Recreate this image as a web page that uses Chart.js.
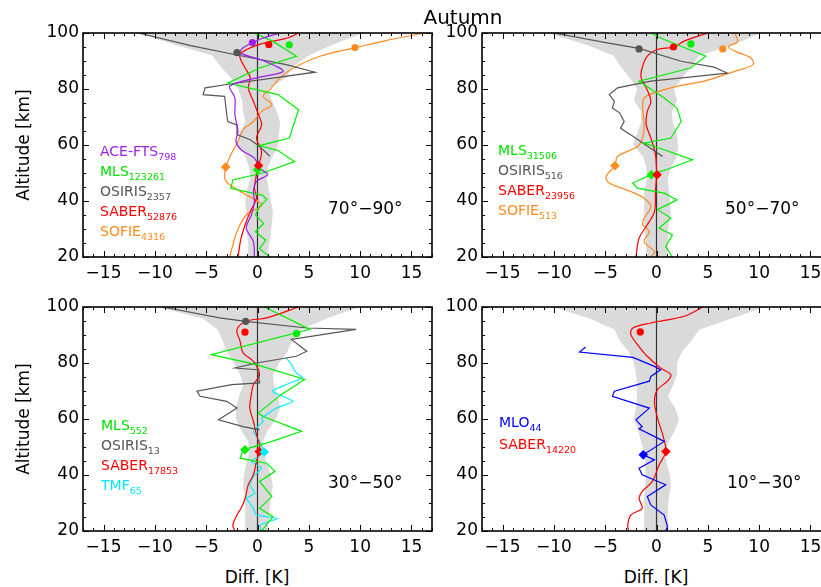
<!DOCTYPE html>
<html lang="en">
<head>
<meta charset="UTF-8">
<title>Autumn</title>
<script src="https://cdn.jsdelivr.net/npm/chart.js@4.4.1/dist/chart.umd.min.js"></script>
<style>
  html, body { margin: 0; padding: 0; width: 821px; height: 587px; overflow: hidden; background: #fff; }
  body { position: relative; font-family: 'DejaVu Sans', sans-serif; color: #000; }
  canvas { position: absolute; }
  .txt { position: absolute; white-space: nowrap; line-height: 1; transform: translateY(-50%); }
  .mid { transform: translate(-50%, -50%); }
  .rot { transform: translate(-50%, -50%) rotate(-90deg); font-size: 17px; }
  .leg { font-size: 14px; }
  .leg sub { font-size: 9.5px; vertical-align: -4px; }
  .zone { font-size: 17px; }
</style>
</head>
<body>
<canvas id="p1" width="440" height="290" style="left:0;top:0"></canvas>
<canvas id="p2" width="400" height="290" style="left:440px;top:0"></canvas>
<canvas id="p3" width="440" height="290" style="left:0;top:274px"></canvas>
<canvas id="p4" width="400" height="290" style="left:440px;top:274px"></canvas>

<div class="txt mid" style="left:463px;top:17px;font-size:20px">Autumn</div>
<div class="txt rot" style="left:23px;top:145px">Altitude [km]</div>
<div class="txt rot" style="left:23px;top:419px">Altitude [km]</div>
<div class="txt mid" style="left:257px;top:577px;font-size:17px">Diff. [K]</div>
<div class="txt mid" style="left:656px;top:577px;font-size:17px">Diff. [K]</div>

<div class="txt zone" style="left:328px;top:208px">70°−90°</div>
<div class="txt zone" style="left:725px;top:208px">50°−70°</div>
<div class="txt zone" style="left:328px;top:482px">30°−50°</div>
<div class="txt zone" style="left:727px;top:482px">10°−30°</div>

<div class="txt leg" style="left:100px;top:153px;color:#9b1fe8">ACE-FTS<sub>798</sub></div>
<div class="txt leg" style="left:100px;top:173px;color:#00e000">MLS<sub>123261</sub></div>
<div class="txt leg" style="left:100px;top:193px;color:#555">OSIRIS<sub>2357</sub></div>
<div class="txt leg" style="left:100px;top:213px;color:#ff0000">SABER<sub>52876</sub></div>
<div class="txt leg" style="left:100px;top:233px;color:#ff8a1e">SOFIE<sub>4316</sub></div>

<div class="txt leg" style="left:498px;top:152px;color:#00e000">MLS<sub>31506</sub></div>
<div class="txt leg" style="left:498px;top:172px;color:#555">OSIRIS<sub>516</sub></div>
<div class="txt leg" style="left:498px;top:192px;color:#ff0000">SABER<sub>23956</sub></div>
<div class="txt leg" style="left:498px;top:212px;color:#ff8a1e">SOFIE<sub>513</sub></div>

<div class="txt leg" style="left:101px;top:427px;color:#00e000">MLS<sub>552</sub></div>
<div class="txt leg" style="left:101px;top:447px;color:#555">OSIRIS<sub>13</sub></div>
<div class="txt leg" style="left:101px;top:467px;color:#ff0000">SABER<sub>17853</sub></div>
<div class="txt leg" style="left:101px;top:487px;color:#00e8ff">TMF<sub>65</sub></div>

<div class="txt leg" style="left:499px;top:424px;color:#0000ff">MLO<sub>44</sub></div>
<div class="txt leg" style="left:499px;top:446px;color:#ff0000">SABER<sub>14220</sub></div>

<script>
// axis ticks
const xTicks = [-15, -10, -5, 0, 5, 10, 15];
const yTicks = [20, 40, 60, 80, 100];
const xMinor = [-17, -16, -15, -14, -13, -12, -11, -10, -9, -8, -7, -6, -5, -4, -3, -2, -1, 0,
                1, 2, 3, 4, 5, 6, 7, 8, 9, 10, 11, 12, 13, 14, 15, 16, 17];
const yMinor = [20, 25, 30, 35, 40, 45, 50, 55, 60, 65, 70, 75, 80, 85, 90, 95, 100];

// spread band (altitude, low and high edge of the gray area)
const bandAlt = [100, 96, 92, 88, 84, 80, 76, 72, 68, 64, 60, 56, 52, 48, 44, 40, 36, 32, 28, 24, 20];
const band7090Lo = [-11.6, -8.2, -4.4, -3.6, -2.6, -1.9, -1.5, -1.4, -1.2, -1.8, -1.9, -1.2, -0.8, -0.7, -1.0, -1.2, -1.1, -1.1, -1.0, -0.9, -0.9];
const band7090Hi = [10.3, 7.4, 5.0, 3.4, 2.8, 1.0, 1.4, 1.9, 2.2, 2.1, 2.0, 1.5, 1.0, 0.9, 1.1, 1.3, 1.5, 1.4, 1.3, 1.1, 1.0];
const band5070Lo = [-10.6, -7.0, -4.2, -3.5, -2.6, -1.9, -2.2, -1.5, -1.5, -1.9, -2.3, -1.3, -1.0, -0.9, -1.2, -1.2, -1.2, -1.2, -1.1, -1.0, -1.0];
const band5070Hi = [10.2, 7.6, 4.2, 3.4, 2.5, 1.7, 2.0, 1.5, 1.6, 2.0, 2.1, 2.0, 1.4, 1.1, 1.2, 1.3, 1.4, 1.2, 1.1, 1.1, 1.1];
const band3050Lo = [-9.8, -5.4, -3.9, -3.4, -3.0, -2.3, -1.7, -1.4, -1.8, -2.1, -2.1, -1.6, -0.9, -0.8, -1.1, -1.3, -1.4, -1.2, -1.2, -1.2, -1.2];
const band3050Hi = [9.9, 6.8, 4.3, 3.4, 2.9, 2.1, 1.5, 1.6, 2.0, 2.2, 1.8, 1.0, 0.5, 0.6, 0.9, 1.3, 1.5, 1.3, 1.2, 1.1, 1.0];
const band1030Lo = [-10.1, -6.6, -4.1, -3.6, -2.7, -2.2, -2.0, -1.9, -1.9, -2.0, -2.2, -1.8, -1.5, -1.2, -1.1, -1.05, -1.1, -1.2, -1.2, -1.2, -1.2];
const band1030Hi = [10.5, 7.4, 4.2, 3.4, 2.5, 2.0, 2.0, 1.6, 1.1, 1.8, 2.2, 1.8, 1.2, 0.9, 1.0, 1.3, 1.4, 1.2, 1.1, 1.1, 1.2];

// profiles: [diff K, altitude km]
const ace7090 = [[2.2,100],[0.2,97.7],[-1.4,94.7],[-1.7,92.9],[0.7,89.9],[2.5,86.3],[-0.1,84],[-2.7,81],[-2.2,76.8],[-2.2,70.8],[-1.9,64.9],[-2.1,61.3],[-1.6,58.3],[-0.3,55.3],[0.2,51.7],[1.0,49.4],[-0.1,47],[-0.4,43.4],[-0.3,39.8],[-0.6,35],[-1.1,30.3],[-0.4,25.5],[-0.3,20]];
const mls7090 = [[-0.3,100],[1.5,97],[3.8,91.7],[0.2,87.5],[-2.9,82.1],[2.0,78],[4.0,72.6],[3.1,62.5],[0.2,59.8],[2.0,58],[3.6,54.1],[0.5,50],[-2.4,47.5],[-2.6,44.5],[0.5,42],[0.9,40.5],[0.2,38],[-0.2,35],[0.6,32],[-0.2,29],[0.8,26],[0.2,23],[1.2,20]];
const osiris7090 = [[-11.6,100],[-6.5,95.5],[-2.5,92.5],[2.8,88.7],[5.6,86],[-3.0,81.6],[-5.1,80.4],[-5.3,78],[-3.2,77.4],[-3.0,70.8],[-2.9,68.4],[-2.0,67.2],[-2.0,63.7],[-0.7,61.9],[0.2,59.5],[1.2,56]];
const saber7090 = [[4.0,100],[3.0,98.3],[1.4,97],[-0.1,95.6],[-1.6,92.9],[-1.7,91.1],[-1.2,87.5],[-0.7,84],[-0.9,80.4],[-0.4,75.6],[0.1,70.8],[0.4,67.2],[-0.1,62.5],[0.4,57.7],[0.1,52.7],[-0.1,49.4],[-0.3,44.6],[-0.1,41],[-0.7,36.2],[-1.2,31.5],[-1.6,26.7],[-1.9,20]];
const sofie7090 = [[16.3,100],[12.5,97.3],[9.5,94.7],[6.1,91.7],[3.5,87.5],[2.2,84],[1.2,79.8],[0.55,77.4],[1.4,74.4],[0.4,72],[-0.4,68.4],[-1.4,65.5],[-1.9,61.3],[-2.5,57.2],[-3.0,53],[-3.2,48.2],[-2.7,45.8],[-1.1,42.2],[0.4,38.6],[-1.1,35],[-2.0,29.1],[-2.4,24.3],[-2.7,20]];

const mls5070 = [[-0.55,100],[0.75,97.7],[4.8,91.7],[3.3,87.5],[-1.7,82.8],[0.75,76.8],[2.0,73.2],[2.4,68.4],[1.4,62.5],[-1.2,60.7],[0.75,58.3],[3.5,54.7],[1.2,51.5],[-0.55,49.4],[-2.3,46.4],[-1.85,44.6],[0.75,42.8],[2.0,40.4],[0.1,36.9],[1.4,33.9],[0.25,30.3],[1.55,27.9],[0.9,23.7],[1.55,20]];
const osiris5070 = [[-10.0,100],[-4.8,96.5],[-1.7,94.5],[2.4,89.9],[5.6,87.8],[6.9,85.7],[-0.55,82.8],[-3.8,80.4],[-4.6,78],[-4.1,75.6],[-4.3,73.2],[-3.6,71.5],[-3.15,68.4],[-3.5,66],[-2.3,63.1],[0.6,55.9]];
const saber5070 = [[5.0,100],[2.7,97.1],[1.65,95.0],[0.1,94.1],[-0.9,91.7],[-1.4,87.5],[-1.5,84],[-1.0,80.4],[-0.55,75.6],[-0.9,72],[-1.0,67.2],[-0.55,62.5],[-0.1,56.5],[0,49.4],[-0.1,43.4],[-0.2,36.2],[-0.9,31.5],[-1.7,26.7],[-2.0,20]];
const sofie5070 = [[7.6,100],[7.9,97],[7.0,95],[8.0,93],[9.2,91.1],[9.4,88.7],[7.6,86.3],[4.6,82.8],[2.05,81],[-0.2,78.6],[-1.2,76.8],[-1.35,73.2],[-1.2,67.2],[-1.35,62.5],[-1.85,59.5],[-3.8,55.9],[-4.05,52.6],[-4.9,48.8],[-4.6,46.4],[-2.5,43.4],[-1.2,41],[-0.55,38],[-1.2,33.9],[-1.35,31.5],[-0.7,29.1],[-1.2,25.5],[-0.2,21.9],[-0.55,20]];

const mls3050 = [[0.7,100],[5.1,92],[-4.5,83],[-0.1,79.4],[4.6,74.1],[2.3,68.7],[0.06,62.1],[0.55,60.9],[4.3,55.6],[1.4,52],[-1.4,49],[-1.7,46],[0.9,44.2],[1.7,41.3],[0.2,37.7],[1.4,32.3],[0.2,28.1],[1.5,25.1],[0.4,20]];
const osiris3050 = [[-9.2,100],[-3.7,96.1],[-1.15,94.9],[4.8,92.5],[9.6,92],[3.3,88.4],[4.8,84.2],[3.8,82.4],[-0.1,80],[-2.2,78.2],[0.0,77.6],[0.2,72.9],[-2.5,72.3],[-5.9,69.9],[-5.6,68.1],[-3.0,66.3],[-2.0,63.9],[-3.8,59.7],[-1.4,57.3],[0.2,56.1]];
const saber3050 = [[4.0,100],[0.9,96.1],[-1.1,94.9],[-2.0,91.9],[-1.7,87.8],[-1.4,83.6],[-0.4,80.6],[0.2,75.8],[-0.4,72.3],[-0.6,68.7],[-0.75,63.9],[-0.4,59.2],[-0.1,54.4],[0.2,50.8],[0.16,48.4],[-0.1,44.8],[-0.4,40.1],[-0.9,36.5],[-1.2,31.7],[-1.6,28.1],[-2.0,25.7],[-2.4,22.1],[-2.2,20]];
const tmf3050 = [[2.8,81.8],[3.3,79.4],[3.8,76.4],[4.4,74.7],[2.8,72.3],[1.4,69.9],[3.5,66.3],[1.85,63.9],[0.4,60.3],[0.55,59.2],[-0.4,55.6],[0.2,52],[0.65,48.2],[-0.6,44.8],[0.4,42.5],[-0.4,39.5],[-0.75,36.5],[-0.25,33.5],[-1.07,31.7],[-0.4,28.1],[-0.1,25.7],[2.0,24.5],[0.2,22.1],[0.4,20]];

const mlo1030 = [[-6.9,85.7],[-7.5,83.9],[-2.3,82],[-0.2,78.8],[0.4,77.6],[-0.55,75.2],[-0.7,73.5],[-4.1,69.9],[-4.3,68.1],[-0.7,63.9],[-2.0,59.7],[-1.4,57.3],[-1.7,56.5],[0.75,52],[-1.3,47.2],[-0.2,45.4],[-1.7,42.4],[-1.4,40.1],[0.9,36.5],[-0.9,32.3],[-0.55,29.3],[0.75,25.7],[1.07,21.6],[0.9,20]];
const saber1030 = [[4.5,100],[2.7,96.7],[-0.55,94.3],[-2.3,92.5],[-2.5,90.2],[-1.85,86.6],[-0.9,82.4],[0.4,78.2],[1.4,75.8],[1.07,73.5],[0.1,70.5],[-0.2,66.3],[0.1,60.3],[0.6,54.4],[0.9,48.4],[0.25,43.6],[-0.4,37.7],[-1.4,34.1],[-1.7,31.7],[-1.4,28.1],[-2.5,25.7],[-2.8,22.1],[-2.7,20]];

// upper (circle) and lower (diamond) markers
const circles7090 = [[-0.5,96.6],[1.1,95.9],[3.1,95.8],[-2.0,93.0],[9.5,94.8]];
const diamonds7090 = [[-3.1,52.1],[0.0,51.2],[0.1,52.7]];
const circles5070 = [[-1.7,94.3],[1.65,95.0],[3.35,96.1],[6.45,94.3]];
const diamonds5070 = [[-4.05,52.6],[-0.5,49.4],[0.05,49.4]];
const circles3050 = [[-1.15,94.9],[-1.22,91.0],[3.8,90.5]];
const diamonds3050 = [[-1.22,49.0],[0.17,48.4],[0.66,48.2]];
const circles1030 = [[-1.58,91.1]];
const diamonds1030 = [[-1.29,47.2],[0.92,48.4]];

const cAce = '#9b1fe8', cMls = '#00ee00', cOsi = '#555555', cSab = '#ff0000',
      cSof = '#ff8a1e', cTmf = '#00f0ff', cMlo = '#0000ff';
const FONT = "'DejaVu Sans', sans-serif";

function xy(pts) { return pts.map(p => ({ x: p[0], y: p[1] })); }
function fmtX(v) { return v < 0 ? '\u2212' + (-v) : String(v); }

function bandPlugin(lo, hi) {
  return {
    id: 'band',
    beforeDatasetsDraw(chart) {
      const { ctx, chartArea: a, scales: { x, y } } = chart;
      ctx.save();
      ctx.beginPath();
      ctx.rect(a.left, a.top, a.right - a.left, a.bottom - a.top);
      ctx.clip();
      ctx.beginPath();
      bandAlt.forEach((h, i) => {
        const px = x.getPixelForValue(lo[i]), py = y.getPixelForValue(h);
        if (i === 0) ctx.moveTo(px, py); else ctx.lineTo(px, py);
      });
      for (let i = bandAlt.length - 1; i >= 0; i--) {
        ctx.lineTo(x.getPixelForValue(hi[i]), y.getPixelForValue(bandAlt[i]));
      }
      ctx.closePath();
      ctx.fillStyle = '#dadada';
      ctx.fill();
      ctx.restore();
    }
  };
}

// box with inward ticks on all four sides
const framePlugin = {
  id: 'frame',
  afterDatasetsDraw(chart) {
    const { ctx, chartArea: a, scales: { x, y } } = chart;
    ctx.save();
    ctx.strokeStyle = '#000';
    ctx.lineWidth = 1;
    ctx.beginPath();
    xMinor.forEach(v => {
      const px = Math.round(x.getPixelForValue(v)) + 0.5;
      const len = xTicks.includes(v) ? 6 : 3;
      ctx.moveTo(px, a.bottom); ctx.lineTo(px, a.bottom - len);
      ctx.moveTo(px, a.top); ctx.lineTo(px, a.top + len);
    });
    yMinor.forEach(v => {
      const py = Math.round(y.getPixelForValue(v)) + 0.5;
      const len = yTicks.includes(v) ? 6 : 3;
      ctx.moveTo(a.left, py); ctx.lineTo(a.left + len, py);
      ctx.moveTo(a.right, py); ctx.lineTo(a.right - len, py);
    });
    ctx.stroke();
    ctx.lineWidth = 1.6;
    ctx.strokeRect(a.left, a.top, a.right - a.left, a.bottom - a.top);
    ctx.restore();
  }
};

function panel(id, yAxisW, padRight, lo, hi, lines, circles, circleCols, diamonds, diamondCols) {
  const datasets = [
    { data: xy(circles), pointStyle: 'circle', pointRadius: 3.6, pointBackgroundColor: circleCols,
      pointBorderColor: circleCols, pointBorderWidth: 0, showLine: false },
    { data: xy(diamonds), pointStyle: 'rectRot', pointRadius: 4.8, pointBackgroundColor: diamondCols,
      pointBorderColor: diamondCols, pointBorderWidth: 0, showLine: false }
  ];
  lines.forEach(l => datasets.push({
    data: xy(l[0]), showLine: true, borderColor: l[1], borderWidth: 1.2,
    pointRadius: 0, tension: l[2], fill: false
  }));
  datasets.push({ data: [{ x: 0, y: 20 }, { x: 0, y: 100 }], showLine: true, borderColor: '#333',
    borderWidth: 1.2, pointRadius: 0 });

  new Chart(document.getElementById(id), {
    type: 'scatter',
    data: { datasets },
    options: {
      responsive: false, animation: false, devicePixelRatio: 1,
      layout: { padding: { top: 33, right: padRight, left: 0, bottom: 0 } },
      plugins: { legend: { display: false }, tooltip: { enabled: false } },
      scales: {
        x: {
          type: 'linear', min: -17, max: 17,
          grid: { display: false, drawTicks: false }, border: { display: false },
          afterBuildTicks: s => { s.ticks = xTicks.map(v => ({ value: v })); },
          afterFit: s => { s.height = 33; },
          ticks: { padding: 6, color: '#000', autoSkip: false, maxRotation: 0,
                   font: { family: FONT, size: 17 }, callback: v => fmtX(v) }
        },
        y: {
          type: 'linear', min: 20, max: 100,
          grid: { display: false, drawTicks: false }, border: { display: false },
          afterBuildTicks: s => { s.ticks = yTicks.map(v => ({ value: v })); },
          afterFit: s => { s.width = yAxisW; },
          ticks: { padding: 4, color: '#000', font: { family: FONT, size: 17 } }
        }
      }
    },
    plugins: [bandPlugin(lo, hi), framePlugin]
  });
}

panel('p1', 83, 8, band7090Lo, band7090Hi,
  [[ace7090, cAce, 0.3], [mls7090, cMls, 0], [osiris7090, cOsi, 0], [saber7090, cSab, 0.35], [sofie7090, cSof, 0.35]],
  circles7090, [cAce, cSab, cMls, cOsi, cSof], diamonds7090, [cSof, cMls, cSab]);

panel('p2', 42, 9, band5070Lo, band5070Hi,
  [[mls5070, cMls, 0], [osiris5070, cOsi, 0], [saber5070, cSab, 0.35], [sofie5070, cSof, 0.35]],
  circles5070, [cOsi, cSab, cMls, cSof], diamonds5070, [cSof, cMls, cSab]);

panel('p3', 83, 8, band3050Lo, band3050Hi,
  [[mls3050, cMls, 0], [osiris3050, cOsi, 0], [saber3050, cSab, 0.35], [tmf3050, cTmf, 0.1]],
  circles3050, [cOsi, cSab, cMls], diamonds3050, [cMls, cSab, cTmf]);

panel('p4', 42, 9, band1030Lo, band1030Hi,
  [[mlo1030, cMlo, 0], [saber1030, cSab, 0.35]],
  circles1030, [cSab], diamonds1030, [cMlo, cSab]);
</script>
</body>
</html>
